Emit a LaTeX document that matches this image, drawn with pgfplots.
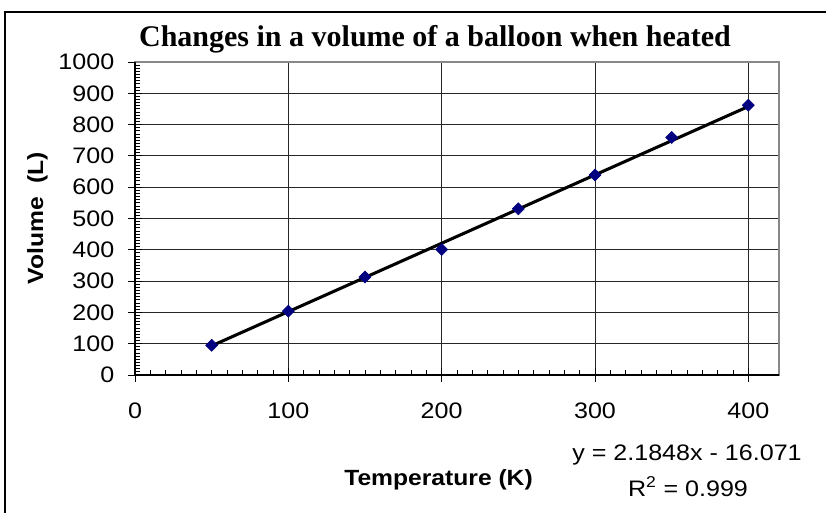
\documentclass[border=0pt]{standalone}
\usepackage{pgfplots}
\pgfplotsset{compat=1.18}
\usepackage{fontspec}
\setmainfont[FakeStretch=1.12]{Liberation Sans}
\newfontfamily\titlefont{Liberation Serif}
\definecolor{navy}{HTML}{000080}
\definecolor{bordergray}{HTML}{888888}
\begin{document}
\begin{tikzpicture}
\clip (0pt,0pt) rectangle (619.5pt,384pt);
\draw[line width=0.9pt] (3.75pt,-5pt) rectangle (625pt,375pt);
\begin{axis}[
  at={(101.25pt,102.75pt)}, anchor=south west,
  scale only axis, width=483pt, height=234.75pt,
  xmin=0, xmax=420, ymin=0, ymax=1000,
  xtick={0,100,...,400}, ytick={0,100,...,1000},
  minor x tick num=9, minor y tick num=9,
  xtick pos=bottom, ytick pos=left,
  grid=major,
  major grid style={line width=0.7pt, color=black!85},
  axis line style={bordergray, line width=0.9pt},
  tick align=center,
  major tick length=10pt,
  minor tick length=3.5pt,
  tick style={black, line width=0.7pt},
  minor x tick style={yshift=1.75pt},
  minor y tick style={xshift=1.75pt},
  ticklabel style={font=\fontsize{16.8}{19}\selectfont},
  xticklabel style={yshift=-12pt},
  yticklabel style={xshift=-7pt},
  /pgf/number format/assume math mode=true,
  /pgf/number format/1000 sep={},
  clip=false,
]
\addplot[line width=2.3pt, black] coordinates {(50,93.169) (400,857.849)};
\addplot[only marks, mark=square*, mark size=3.2pt, mark options={rotate=45, fill=navy, draw=navy}] coordinates {
(50,95) (100,204) (150,313) (200,401) (250,531) (300,639) (350,759) (400,862)};
\draw[black, line width=0.9pt] (rel axis cs:0,1) -- (rel axis cs:0,0) -- (rel axis cs:1,0);
\end{axis}
\node[anchor=base, font=\titlefont\bfseries\fontsize{22.5}{26}\selectfont] at (326.25pt,348.75pt) {Changes in a volume of a balloon when heated};
\node[anchor=base, rotate=90, font=\bfseries\fontsize{16.5}{20}\selectfont] at (32.25pt,220.5pt) {Volume\ \ (L)};
\node[anchor=base, font=\bfseries\fontsize{16.5}{20}\selectfont] at (328.9pt,20.25pt) {Temperature (K)};
\node[anchor=base, font=\fontsize{16.8}{20}\selectfont] at (515.25pt,39pt) {y = 2.1848x - 16.071};
\node[anchor=base, font=\fontsize{16.8}{20}\selectfont] at (516pt,12pt) {R\textsuperscript{2} = 0.999};
\end{tikzpicture}
\end{document}
